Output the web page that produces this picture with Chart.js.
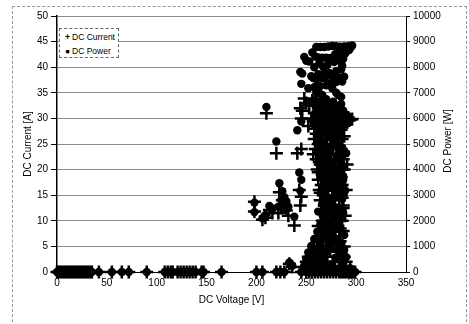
<!DOCTYPE html>
<html lang="en">
<head>
    <meta charset="UTF-8">
    <title>DC Current / DC Power vs DC Voltage</title>
    <script src="https://cdn.jsdelivr.net/npm/chart.js"></script>
    <style>
        body { margin: 0; background: #fff; font-family: "Liberation Sans", Arial, sans-serif; color: #000; }
        #wrap { position: relative; width: 469px; height: 324px; }
        #frame { position: absolute; left: 12px; top: 6px; width: 453px; height: 330px; border: 1px dashed #999; border-bottom: none; }
        #legendBox { position: absolute; left: 59px; top: 28px; width: 60px; height: 30px; border: 1px dashed #666; background: #fff; font-size: 8.5px; line-height: 14px; padding-top: 1px; box-sizing: border-box; }
        #legendBox div { white-space: nowrap; padding-left: 3px; }
        #legendBox span { display: inline-block; width: 9px; text-align: center; font-weight: bold; }
    </style>
</head>
<body>
<div id="wrap">
    <div id="frame"></div>
    <canvas id="dcChart" width="469" height="324"></canvas>
    <div id="legendBox">
        <div><span>+</span>DC Current</div>
        <div><span>&#9679;</span>DC Power</div>
    </div>
</div>

<script>
    // measured points: voltage [V], current [A], power [W]
    // idle points at the bottom (inverter off)
    const idleVoltage = [0, 1, 3, 5, 7, 9, 11, 13, 15, 17, 19, 21, 23, 25, 27, 29, 31, 33, 35, 42, 55, 65, 72, 90,
        108, 111, 114, 116, 121, 124, 127, 130, 133, 136, 139, 145, 147, 165, 200, 206, 220, 224, 228,
        245, 250, 253, 256, 259, 262, 265, 268, 271, 274, 277, 280, 283, 285, 287, 289, 291, 293, 295, 297, 299];
    const idleCurrent = idleVoltage.map(() => 0);
    const idlePower = idleVoltage.map(() => 0);

    // running points
    const voltage = [
        210, 220, 198, 198, 206, 209, 213, 216, 222, 223, 225, 226, 228, 230, 232, 238, 236, 233, 256,
        241, 245, 243, 245, 244, 246, 248, 245, 250, 253, 244,
        256, 260, 264, 268, 272, 276, 280, 284, 288, 292, 295, 262, 266, 270, 274, 258, 286, 255, 262, 268,
        275, 252, 258, 264, 270, 290, 293, 296, 278, 283, 280, 266, 260,
        260, 272, 282, 258, 266, 276, 286, 262, 270, 280, 259, 268, 277, 285, 263, 272, 281,
        260, 269, 278, 287, 264, 273, 283, 261, 270, 279, 288, 266, 275, 284, 262, 271, 280,
        265, 274, 286, 263, 272, 281, 267, 276, 285, 264, 273, 283, 268, 278, 287, 265, 274, 284,
        269, 279, 266, 276, 286, 270, 280, 267, 277, 287, 264, 273, 283, 261, 270, 280,
        258, 267, 277, 288, 255, 264, 274, 285, 252, 261, 271, 282, 250, 258, 268, 279, 290,
        248, 256, 265, 275, 286, 252, 262, 272, 283, 294,
        263, 280, 265, 282, 266, 283, 267, 284, 268, 285, 269, 283, 270, 286, 271, 287, 272, 283,
        273, 284, 267, 276,
        259, 263, 267, 271, 275, 279, 283, 287, 265, 273, 277, 261, 269, 285, 289, 257,
        257, 263, 267, 275, 279, 285, 262, 268, 277, 283, 264, 270, 278, 268, 276, 282,
        272, 278, 262, 270, 276, 284, 263, 281, 288, 255, 266, 286,
        291, 290, 289, 288
    ];
    const current = [
        31.0, 23.2, 13.7, 11.8, 10.2, 10.6, 12.1, 11.5, 11.5, 15.6, 12.5, 14.0, 12.8, 12.0, 11.0, 9.1, 1.0, 1.6, 3.8,
        23.2, 24.0, 16.0, 14.7, 13.0, 31.5, 33.9, 30.0, 33.0, 32.5, 32.0,
        33.5, 33.8, 33.3, 32.8, 32.4, 32.0, 31.5, 31.0, 30.6, 30.2, 29.8, 32.0, 31.5, 31.0, 30.5, 31.0, 28.2, 30.0, 29.5, 29.0,
        28.0, 28.5, 28.0, 27.5, 27.0, 30.0, 29.6, 29.9, 29.5, 29.2, 28.0, 28.5, 29.0,
        27, 27, 27, 26, 26, 26, 26, 25, 25, 25, 24, 24, 24, 24, 23, 23, 23,
        22, 22, 22, 22, 21, 21, 21, 20, 20, 20, 20, 19, 19, 19, 18, 18, 18,
        17, 17, 17, 16, 16, 16, 15, 15, 15, 14, 14, 14, 13, 13, 13, 12, 12, 12,
        11, 11, 10, 10, 10, 9, 9, 8, 8, 8, 7, 7, 7, 6, 6, 6,
        5, 5, 5, 5, 4, 4, 4, 4, 3, 3, 3, 3, 2, 2, 2, 2, 2,
        1, 1, 1, 1, 1, 0.5, 0.5, 0.5, 0.5, 0.5,
        26.5, 26.5, 24.5, 24.5, 22.5, 22.5, 20.5, 20.5, 18.5, 18.5, 16.5, 16.5, 14.5, 14.5, 12.5, 12.5, 10.5, 10.5,
        8.5, 8.5, 6.5, 6.5,
        32.5, 31.0, 30.0, 29.8, 30.2, 30.5, 30.2, 29.0, 29.0, 28.5, 27.0, 28.0, 28.2, 27.8, 29.5, 29.5,
        23.0, 21.5, 23.5, 22.0, 21.5, 23.0, 19.5, 19.0, 18.0, 17.5, 15.5, 15.0, 14.5, 11.5, 12.5, 11.5,
        9.5, 8.0, 9.0, 7.5, 5.5, 6.0, 3.5, 4.5, 3.0, 2.5, 1.5, 2.5,
        21.0, 16.0, 11.0, 26.5
    ];
    const power = [
        6450, 5100, 2710, 2340, 2100, 2215, 2580, 2480, 2550, 3470, 2810, 3160, 2920, 2760, 2550, 2160, 240, 370, 970,
        5540, 5880, 3890, 3600, 3170, 7750, 8400, 7350, 8250, 8220, 7810,
        8580, 8790, 8790, 8790, 8810, 8830, 8820, 8800, 8810, 8820, 8790, 8380, 8370, 8370, 8360, 8000, 8060, 7650, 7730, 7770,
        7700, 7180, 7220, 7260, 7290, 8700, 8670, 8850, 8200, 8260, 7840, 7580, 7540,
        7020, 7340, 7610, 6710, 6920, 7180, 7440, 6550, 6750, 7000, 6220, 6430, 6650, 6840, 6050, 6260, 6460,
        5720, 5920, 6120, 6310, 5540, 5730, 5940, 5220, 5400, 5580, 5760, 5050, 5230, 5400, 4720, 4880, 5040,
        4510, 4660, 4860, 4210, 4350, 4500, 4010, 4140, 4280, 3700, 3820, 3960, 3480, 3610, 3730, 3180, 3290, 3410,
        2960, 3070, 2660, 2760, 2860, 2430, 2520, 2140, 2220, 2300, 1850, 1910, 1980, 1570, 1620, 1680,
        1290, 1340, 1390, 1440, 1020, 1060, 1100, 1140, 760, 780, 810, 850, 500, 520, 540, 560, 580,
        250, 260, 270, 280, 290, 130, 130, 140, 140, 150,
        6970, 7420, 6490, 6910, 5990, 6370, 5470, 5820, 4960, 5270, 4440, 4670, 3920, 4150, 3390, 3590, 2860, 2970,
        2320, 2410, 1740, 1790,
        8420, 8150, 8010, 8080, 8300, 8510, 8550, 8320, 7690, 7780, 7480, 7310, 7590, 7920, 8530, 7580,
        5910, 5650, 6270, 6050, 6000, 6560, 5110, 5090, 4990, 4950, 4090, 4050, 4030, 3080, 3450, 3240,
        2580, 2220, 2360, 2030, 1520, 1700, 920, 1260, 860, 640, 400, 715,
        6110, 4640, 3180, 7630
    ];

    const voltageTicks = [0, 50, 100, 150, 200, 250, 300, 350];
    const currentTicks = [0, 5, 10, 15, 20, 25, 30, 35, 40, 45, 50];
    const powerTicks = [0, 1000, 2000, 3000, 4000, 5000, 6000, 7000, 8000, 9000, 10000];

    const allV = idleVoltage.concat(voltage);
    const allI = idleCurrent.concat(current);
    const allP = idlePower.concat(power);
    const currentPoints = allV.map((v, i) => ({ x: v, y: allI[i] }));
    const powerPoints = allV.map((v, i) => ({ x: v, y: allP[i] }));

    const font = { family: '"Liberation Sans", Arial, sans-serif', size: 10 };
    Chart.defaults.color = '#000';

    // right axis title reads bottom-to-top like the left one
    const rightTitle = {
        id: 'rightTitle',
        afterDraw(chart) {
            const c = chart.ctx, a = chart.chartArea;
            c.save();
            c.translate(a.right + 42, (a.top + a.bottom) / 2 - 3);
            c.rotate(-Math.PI / 2);
            c.font = '10px "Liberation Sans", Arial, sans-serif';
            c.fillStyle = '#000';
            c.textAlign = 'center';
            c.textBaseline = 'middle';
            c.fillText('DC Power [W]', 0, 0);
            c.restore();
        }
    };

    const ctx = document.getElementById('dcChart').getContext('2d');
    const dcChart = new Chart(ctx, {
        type: 'scatter',
        data: {
            datasets: [{
                label: 'DC Power',
                data: powerPoints,
                yAxisID: 'y2',
                clip: false,
                pointStyle: 'circle',
                pointRadius: 4.2,
                backgroundColor: '#000',
                borderColor: '#000',
                borderWidth: 0
            }, {
                label: 'DC Current',
                data: currentPoints,
                yAxisID: 'y',
                clip: false,
                pointStyle: 'cross',
                pointRadius: 6.5,
                borderColor: '#000',
                borderWidth: 2.5
            }]
        },
        options: {
            responsive: false,
            animation: false,
            layout: { padding: { top: 16, left: 0, right: 0, bottom: 0 } },
            plugins: { legend: { display: false }, tooltip: { enabled: false } },
            scales: {
                x: {
                    type: 'linear',
                    min: 0, max: 350,
                    afterFit: s => { s.height = 52; },
                    afterBuildTicks: s => { s.ticks = voltageTicks.map(v => ({ value: v })); },
                    ticks: { font: font, padding: 5, maxRotation: 0, callback: v => String(v) },
                    grid: { display: true, drawOnChartArea: false, drawTicks: false },
                    border: { display: true, color: '#000', width: 1 },
                    title: { display: true, text: 'DC Voltage [V]', font: font, padding: 18 }
                },
                y: {
                    position: 'left',
                    min: 0, max: 50,
                    afterFit: s => { s.width = 57; },
                    afterBuildTicks: s => { s.ticks = currentTicks.map(v => ({ value: v })); },
                    ticks: { font: font, padding: 3, callback: v => String(v) },
                    grid: { color: '#8a8a8a', borderDash: [6, 3], tickLength: 6, tickColor: '#000', tickBorderDash: [] },
                    border: { display: true, color: '#000', width: 1.5 },
                    title: { display: true, text: 'DC Current [A]', font: font, padding: 22 }
                },
                y2: {
                    position: 'right',
                    min: 0, max: 10000,
                    afterFit: s => { s.width = 63; },
                    afterBuildTicks: s => { s.ticks = powerTicks.map(v => ({ value: v })); },
                    ticks: { font: font, padding: 3, callback: v => String(v) },
                    grid: { drawOnChartArea: false, tickLength: 4, tickColor: '#000' },
                    border: { display: true, color: '#000', width: 1 }
                }
            }
        },
        plugins: [rightTitle]
    });
</script>
</body>
</html>
